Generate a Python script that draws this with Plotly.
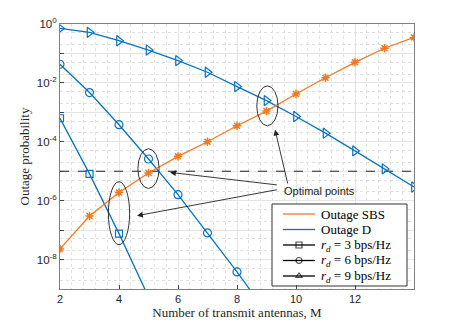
import plotly.graph_objects as go

# number of transmit antennas
m_sbs = [2, 3, 4, 5, 6, 7, 8, 9, 10, 11, 12, 13, 14]
p_sbs = [2.3e-8, 3.0e-7, 1.9e-6, 8.7e-6, 3.2e-5, 1.0e-4, 3.5e-4, 1.1e-3,
         4.2e-3, 1.5e-2, 5.0e-2, 0.15, 0.35]

m_d9 = [2, 3, 4, 5, 6, 7, 8, 9, 10, 11, 12, 13, 14]
p_d9 = [0.71, 0.52, 0.27, 0.13, 0.057, 0.023, 7.5e-3, 2.5e-3, 7.2e-4,
        1.96e-4, 4.9e-5, 1.2e-5, 2.9e-6]

m_d6 = [2, 3, 4, 5, 6, 7, 8, 9]
p_d6 = [0.043, 4.7e-3, 3.8e-4, 2.6e-5, 1.6e-6, 8.0e-8, 3.8e-9, 1.6e-10]

m_d3 = [2, 3, 4, 5]
p_d3 = [6.3e-4, 8.1e-6, 7.6e-8, 5.4e-10]

threshold = 1e-5

# ellipses around the optimal points: (x0, x1, y0, y1)
ellipses = [(3.64, 4.36, 3.2e-8, 4.4e-6),
            (4.64, 5.36, 2.6e-6, 5.8e-5),
            (8.67, 9.39, 3.5e-4, 7.9e-3)]

# arrows: head (x, log10 y), tail (x, log10 y)
arrows = [((9.29, -3.59), (9.73, -5.47)),
          ((5.73, -5.04), (9.40, -5.47)),
          ((4.61, -6.51), (9.40, -5.62))]

x_ticks = [2, 4, 6, 8, 10, 12]
y_tickvals = [10.0 ** -k for k in range(0, 10)]
y_ticktext = ["10<sup>0</sup>", "", "10<sup>-2</sup>", "", "10<sup>-4</sup>", "",
              "10<sup>-6</sup>", "", "10<sup>-8</sup>", ""]

SUB_D = "<i>r</i><span style=\"font-size:9px;baseline-shift:-3px\"><i>d</i></span>"
legend_labels = ["Outage SBS", "Outage D", SUB_D + " = 3 bps/Hz",
                 SUB_D + " = 6 bps/Hz", SUB_D + " = 9 bps/Hz"]
legend_symbols = [None, None, "square-open", "circle-open", "triangle-up-open"]

ORANGE = "#EF7A22"
BLUE = "#0B72BD"
legend_colors = [ORANGE, BLUE, "black", "black", "black"]
SERIF = "Liberation Serif"
SANS = "Liberation Sans"

fig = go.Figure()

fig.add_trace(go.Scatter(x=[2, 14], y=[threshold, threshold], mode="lines",
                         line=dict(color="#222222", width=1, dash="dash"),
                         showlegend=False, hoverinfo="skip"))

fig.add_trace(go.Scatter(x=m_d3, y=p_d3, mode="lines+markers", showlegend=False,
                         line=dict(color=BLUE, width=1.3),
                         marker=dict(symbol="square-open", size=7, color=BLUE,
                                     line=dict(width=1.2))))
fig.add_trace(go.Scatter(x=m_d6, y=p_d6, mode="lines+markers", showlegend=False,
                         line=dict(color=BLUE, width=1.3),
                         marker=dict(symbol="circle-open", size=8, color=BLUE,
                                     line=dict(width=1.2))))
fig.add_trace(go.Scatter(x=m_d9, y=p_d9, mode="lines+markers", showlegend=False,
                         line=dict(color=BLUE, width=1.3),
                         marker=dict(symbol="triangle-right-open", size=9, color=BLUE,
                                     line=dict(width=1.2))))
fig.add_trace(go.Scatter(x=m_sbs, y=p_sbs, mode="lines+markers", showlegend=False,
                         line=dict(color=ORANGE, width=1.3),
                         marker=dict(symbol="asterisk-open", size=7, color=ORANGE,
                                     line=dict(width=1.5, color=ORANGE))))

for x0, x1, y0, y1 in ellipses:
    fig.add_shape(type="circle", xref="x", yref="y", x0=x0, x1=x1, y0=y0, y1=y1,
                  line=dict(color="#333333", width=1))

for (hx, hy), (tx, ty) in arrows:
    fig.add_annotation(x=hx, y=hy, ax=tx, ay=ty, xref="x", yref="y",
                       axref="x", ayref="y", text="", showarrow=True,
                       arrowhead=2, arrowsize=1.3, arrowwidth=0.9,
                       arrowcolor="#222222")

fig.add_annotation(x=10.78, y=-5.66, xref="x", yref="y", text="Optimal points",
                   showarrow=False, font=dict(family=SANS, size=11, color="#222222"))

# hand-drawn legend on an overlay axis measured in pixels of the plot area
fig.add_trace(go.Scatter(
    x=[272, 407, 407, 272, 272], y=[204, 204, 286, 286, 204],
    xaxis="x2", yaxis="y2", mode="lines", fill="toself", fillcolor="white",
    line=dict(color="#333333", width=1), showlegend=False, hoverinfo="skip"))
row_y0, row_step = 214, 15.5
for i, (lab, sym, col) in enumerate(zip(legend_labels, legend_symbols, legend_colors)):
    yy = row_y0 + i * row_step
    fig.add_trace(go.Scatter(
        x=[283, 299, 315], y=[yy, yy, yy], xaxis="x2", yaxis="y2",
        mode="lines+markers" if sym else "lines", showlegend=False, hoverinfo="skip",
        line=dict(color=col, width=1.3),
        marker=dict(symbol=sym or "circle", size=[0, 6, 0], color=col,
                    line=dict(width=1.2, color=col))))
    fig.add_annotation(x=319, y=yy, xref="x2", yref="y2", text=lab,
                       xanchor="left", yanchor="middle", showarrow=False,
                       font=dict(family=SERIF, size=13, color="black"))

fig.update_xaxes(
    range=[2, 14], tickvals=x_ticks, ticks="inside", ticklen=4,
    showline=True, mirror=True, linecolor="#808080", linewidth=1,
    showgrid=True, gridcolor="#e4e4e4", gridwidth=1,
    minor=dict(dtick=0.4, showgrid=True, gridcolor="#e0e0e0", griddash="dot",
               ticks=""),
    tickfont=dict(family=SANS, size=11, color="#262626"),
    title=dict(text="Number of transmit antennas, M", standoff=3,
               font=dict(family=SERIF, size=13, color="#262626")),
    zeroline=False, automargin=False,
)
fig.update_yaxes(
    type="log", range=[-9, 0], tickvals=y_tickvals, ticktext=y_ticktext,
    ticks="inside", ticklen=4,
    showline=True, mirror=True, linecolor="#808080", linewidth=1,
    showgrid=True, gridcolor="#e4e4e4", gridwidth=1,
    minor=dict(showgrid=True, gridcolor="#e0e0e0", griddash="dot", ticks=""),
    tickfont=dict(family=SANS, size=11.5, color="#262626"),
    title=dict(text="Outage probability", standoff=4,
               font=dict(family=SERIF, size=13, color="#262626")),
    automargin=False,
)

# the page body adds an 8px offset, so margins are shifted to land the plot area
# at the same place as in the reference
fig.update_layout(
    width=457, height=325,
    margin=dict(l=52, r=51, t=16, b=44),
    plot_bgcolor="white", paper_bgcolor="white",
    showlegend=False,
    xaxis2=dict(overlaying="x", range=[60, 414], visible=False, fixedrange=True),
    yaxis2=dict(overlaying="y", range=[289, 24], visible=False, fixedrange=True),
)

fig.write_html("out.html")
